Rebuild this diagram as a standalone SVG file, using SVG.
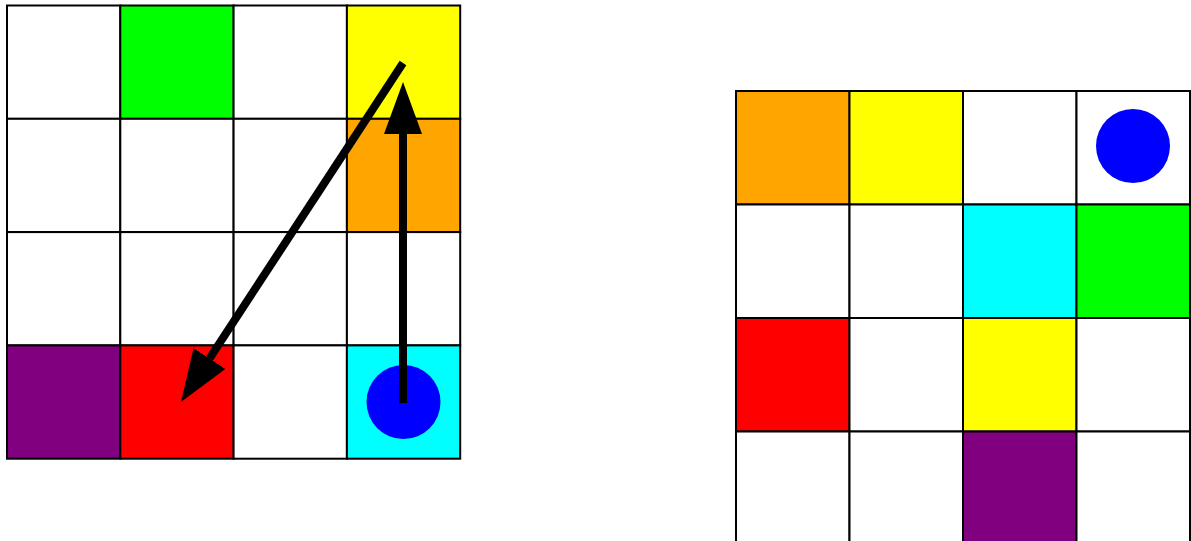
<svg xmlns="http://www.w3.org/2000/svg" width="1191" height="541" viewBox="0 0 1191 541">
<defs>
<style>
.c{stroke:#000;stroke-width:2}
.w{fill:#fff}.g{fill:#00ff00}.y{fill:#ffff00}.o{fill:#ffa500}.p{fill:#800080}.r{fill:#ff0000}.cy{fill:#00ffff}
.dot{fill:#0000ff}
.arr{stroke:#000;stroke-width:8;fill:none;marker-end:url(#head)}
</style>
<marker id="head" markerUnits="userSpaceOnUse" markerWidth="52" markerHeight="38" refX="0" refY="19" orient="auto" viewBox="0 0 52 38">
<path d="M0,0 L52,19 L0,38 Z" fill="#000"/>
</marker>
</defs>
<rect width="1191" height="541" fill="#fff"/>
<g id="left-grid">
<rect id="L00" class="c w" x="7" y="5.5" width="113.3" height="113.3"/>
<rect id="L01" class="c g" x="120.3" y="5.5" width="113.3" height="113.3"/>
<rect id="L02" class="c w" x="233.6" y="5.5" width="113.3" height="113.3"/>
<rect id="L03" class="c y" x="346.9" y="5.5" width="113.3" height="113.3"/>
<rect id="L10" class="c w" x="7" y="118.8" width="113.3" height="113.3"/>
<rect id="L11" class="c w" x="120.3" y="118.8" width="113.3" height="113.3"/>
<rect id="L12" class="c w" x="233.6" y="118.8" width="113.3" height="113.3"/>
<rect id="L13" class="c o" x="346.9" y="118.8" width="113.3" height="113.3"/>
<rect id="L20" class="c w" x="7" y="232.1" width="113.3" height="113.3"/>
<rect id="L21" class="c w" x="120.3" y="232.1" width="113.3" height="113.3"/>
<rect id="L22" class="c w" x="233.6" y="232.1" width="113.3" height="113.3"/>
<rect id="L23" class="c w" x="346.9" y="232.1" width="113.3" height="113.3"/>
<rect id="L30" class="c p" x="7" y="345.4" width="113.3" height="113.3"/>
<rect id="L31" class="c r" x="120.3" y="345.4" width="113.3" height="113.3"/>
<rect id="L32" class="c w" x="233.6" y="345.4" width="113.3" height="113.3"/>
<rect id="L33" class="c cy" x="346.9" y="345.4" width="113.3" height="113.3"/>
</g>
<g id="left-dot"><circle class="dot" cx="403.5" cy="402" r="37"/></g>
<g id="right-grid">
<rect id="R00" class="c o" x="736" y="91" width="113.5" height="113.5"/>
<rect id="R01" class="c y" x="849.5" y="91" width="113.5" height="113.5"/>
<rect id="R02" class="c w" x="963" y="91" width="113.5" height="113.5"/>
<rect id="R03" class="c w" x="1076.5" y="91" width="113.5" height="113.5"/>
<rect id="R10" class="c w" x="736" y="204.5" width="113.5" height="113.5"/>
<rect id="R11" class="c w" x="849.5" y="204.5" width="113.5" height="113.5"/>
<rect id="R12" class="c cy" x="963" y="204.5" width="113.5" height="113.5"/>
<rect id="R13" class="c g" x="1076.5" y="204.5" width="113.5" height="113.5"/>
<rect id="R20" class="c r" x="736" y="318" width="113.5" height="113.5"/>
<rect id="R21" class="c w" x="849.5" y="318" width="113.5" height="113.5"/>
<rect id="R22" class="c y" x="963" y="318" width="113.5" height="113.5"/>
<rect id="R23" class="c w" x="1076.5" y="318" width="113.5" height="113.5"/>
<rect id="R30" class="c w" x="736" y="431.5" width="113.5" height="113.5"/>
<rect id="R31" class="c w" x="849.5" y="431.5" width="113.5" height="113.5"/>
<rect id="R32" class="c p" x="963" y="431.5" width="113.5" height="113.5"/>
<rect id="R33" class="c w" x="1076.5" y="431.5" width="113.5" height="113.5"/>
</g>
<g id="right-dot"><circle class="dot" cx="1133" cy="146" r="37"/></g>
<g id="connectors">
<line class="arr" x1="403" y1="403" x2="403" y2="134"/>
<line class="arr" x1="403" y1="63" x2="209.5" y2="358.5"/>
</g>
</svg>
